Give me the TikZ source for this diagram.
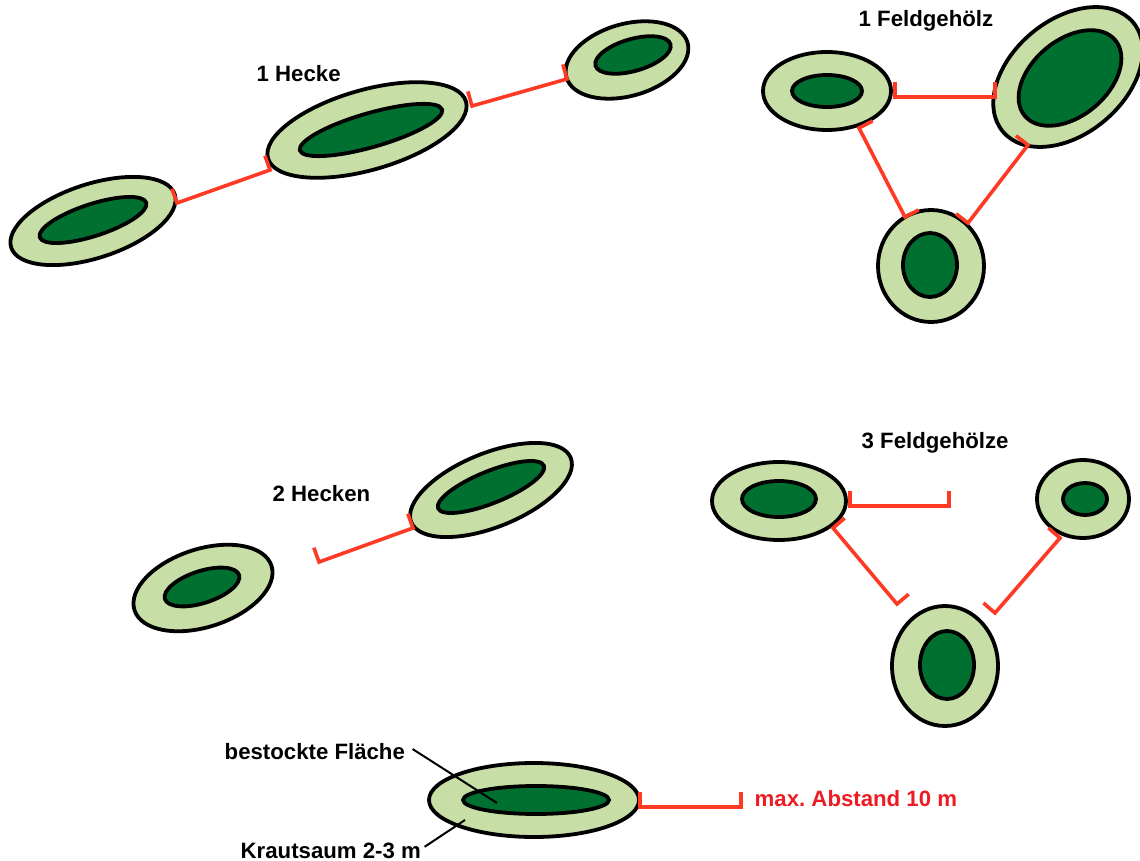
\documentclass[tikz,border=0pt]{standalone}
\usepackage{fontspec}
\setmainfont{Liberation Sans}
\usetikzlibrary{calc,shapes.geometric}
\definecolor{SaumGreen}{RGB}{199,223,166}
\definecolor{HolzGreen}{RGB}{0,112,48}
\definecolor{MarkRed}{RGB}{255,58,36}
\definecolor{TextRed}{RGB}{237,28,36}
\tikzset{
  saum/.style 2 args={ellipse,draw=black,line width=0.95mm,fill=SaumGreen,
                      minimum width=#1*0.25mm,minimum height=#2*0.25mm,inner sep=0pt},
  kern/.style 2 args={saum={#1}{#2},fill=HolzGreen},
  abst/.style={MarkRed,line width=0.9mm},
  lbl/.style={font=\fontsize{15.8}{19}\selectfont\bfseries,inner sep=1pt,anchor=base west},
  lead/.style={black,line width=0.5mm},
}
\newcommand{\abstand}[2]{%
  \draw[abst] ($(#1)!3.8mm!90:(#2)$) -- (#1) -- (#2) -- ($(#2)!3.8mm!-90:(#1)$);}

\begin{document}
\begin{tikzpicture}[x=0.25mm,y=-0.25mm]
  \useasboundingbox (0,0) rectangle (1140,861);

  % 1 Hecke
  \node[saum={172}{74},rotate=18] (h1) at (93,221) {};
  \node[kern={112}{32},rotate=18] (h1k) at (93,220) {};
  \node[saum={206}{80},rotate=16] (h2) at (367,130) {};
  \node[kern={148}{34},rotate=16] (h2k) at (371,130) {};
  \node[saum={126}{72},rotate=16] (h3) at (627,60) {};
  \node[kern={78}{32},rotate=16] (h3k) at (633,55) {};
  \node[lbl] (t-hecke) at (255,82) {1 Hecke};

  \coordinate (h12a) at (177,203);  \coordinate (h12b) at (270,170);
  \coordinate (h23a) at (472,106);  \coordinate (h23b) at (567,79);
  \abstand{h12a}{h12b}
  \abstand{h23a}{h23b}

  % 1 Feldgehoelz
  \node[saum={128}{78}] (f1) at (827,91) {};
  \node[kern={70}{32}] (f1k) at (827,91) {};
  \node[saum={170}{114},rotate=40] (f2) at (1068,77) {};
  \node[kern={118}{76},rotate=40] (f2k) at (1070,78) {};
  \node[saum={106}{112}] (f3) at (931,266) {};
  \node[kern={54}{64}] (f3k) at (930,265) {};
  \node[lbl] (t-feld) at (857,27) {1 Feldgehölz};

  \coordinate (f12a) at (895,97);   \coordinate (f12b) at (995,97);
  \coordinate (f13a) at (859,128);  \coordinate (f13b) at (905,217);
  \coordinate (f32a) at (968,223);  \coordinate (f32b) at (1028,145);
  \abstand{f12a}{f12b}
  \abstand{f13a}{f13b}
  \abstand{f32a}{f32b}

  % 2 Hecken
  \node[saum={144}{78},rotate=18] (g1) at (203,588) {};
  \node[kern={78}{32},rotate=18] (g1k) at (202,587) {};
  \node[saum={172}{74},rotate=22] (g2) at (491,490) {};
  \node[kern={114}{32},rotate=22] (g2k) at (491,487) {};
  \node[lbl] (t-hecken) at (271,502) {2 Hecken};

  \coordinate (g12a) at (319,562);  \coordinate (g12b) at (413,528);
  \abstand{g12a}{g12b}

  % 3 Feldgehoelze
  \node[saum={134}{78}] (k1) at (779,501) {};
  \node[kern={74}{36}] (k1k) at (779,499) {};
  \node[saum={92}{78}] (k2) at (1083,499) {};
  \node[kern={44}{32}] (k2k) at (1085,499) {};
  \node[saum={106}{120}] (k3) at (945,666) {};
  \node[kern={54}{68}] (k3k) at (947,665) {};
  \node[lbl] (t-feldz) at (860,449) {3 Feldgehölze};

  \coordinate (k1a) at (850,506);   \coordinate (k1b) at (949,506);
  \coordinate (k13a) at (833,528);  \coordinate (k13b) at (897,604);
  \coordinate (k32a) at (995,613);  \coordinate (k32b) at (1060,538);
  \abstand{k1a}{k1b}
  \abstand{k13a}{k13b}
  \abstand{k32a}{k32b}

  % Legende
  \node[saum={210}{74}] (leg) at (534,800) {};
  \node[kern={146}{28}] (legk) at (536,800) {};
  \node[lbl] (t-best) at (223,759) {bestockte Fläche};
  \node[lbl] (t-kraut) at (239,858) {Krautsaum 2-3 m};
  \node[lbl,text=TextRed] (t-max) at (753,806) {max.\ Abstand 10 m};

  \coordinate (bestend) at (497,803);
  \coordinate (krautend) at (465,820);
  \draw[lead] ($(t-best.east)+(6,-2)$) -- (bestend);
  \draw[lead] ($(t-kraut.north east)+(2,6)$) -- (krautend);

  \coordinate (lega) at (640,807);  \coordinate (legb) at (741,807);
  \abstand{lega}{legb}
\end{tikzpicture}
\end{document}
